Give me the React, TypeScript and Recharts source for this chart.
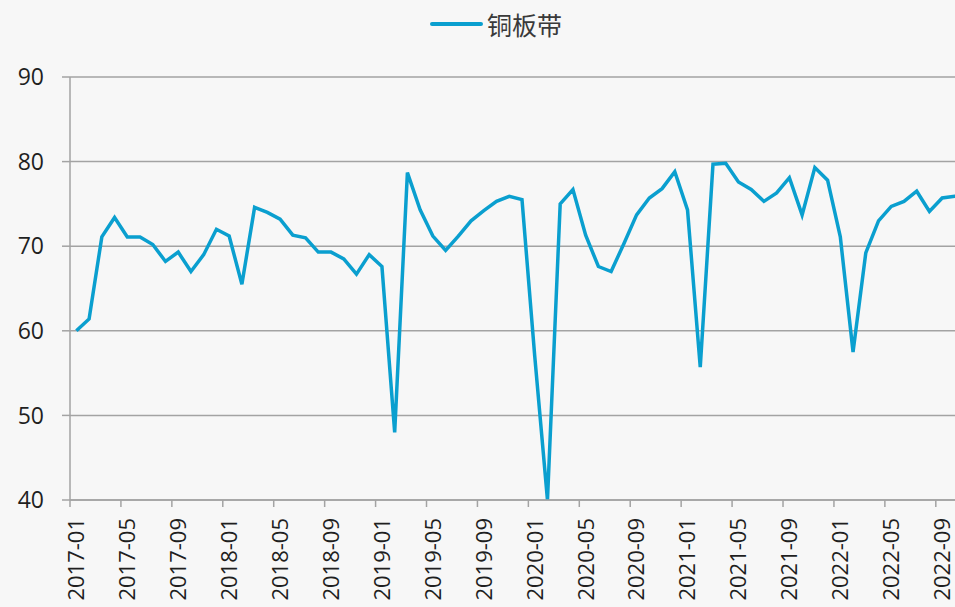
import React from "react";
import { LineChart, Line, XAxis, YAxis, CartesianGrid } from "recharts";

const years = ["2017", "2018", "2019", "2020", "2021", "2022"];
const monthNums = ["01", "02", "03", "04", "05", "06", "07", "08", "09", "10", "11", "12"];
const months = years
  .flatMap((y) => monthNums.map((m) => `${y}-${m}`))
  .slice(0, 71); // 2017-01 .. 2022-11

const copperStrip = [
  60.0, 61.4, 71.1, 73.4, 71.1, 71.1, 70.2, 68.2, 69.3, 67.0, 69.0, 72.0,
  71.2, 65.5, 74.6, 74.0, 73.2, 71.3, 71.0, 69.3, 69.3, 68.5, 66.7, 69.0,
  67.6, 48.0, 78.7, 74.3, 71.2, 69.5, 71.2, 73.0, 74.2, 75.3, 75.9, 75.5,
  57.0, 40.0, 75.0, 76.7, 71.3, 67.6, 67.0, 70.3, 73.7, 75.7, 76.8, 78.8,
  74.3, 55.7, 79.7, 79.8, 77.6, 76.7, 75.3, 76.3, 78.1, 73.7, 79.3, 77.8,
  71.1, 57.5, 69.2, 73.0, 74.7, 75.3, 76.5, 74.1, 75.7, 75.9, 76.0,
];

const yTicks = [40, 50, 60, 70, 80, 90];

const data = months.map((m, i) => ({ month: m, value: copperStrip[i] }));

const FONT = '"Open Sans", "Noto Sans CJK SC", sans-serif';
const LINE_COLOR = "#0a9fcf";
const AXIS_COLOR = "#a3a3a3";

const PLOT_LEFT = 70;
const PLOT_RIGHT = 974;
const CHART_W = 980;
const HALF_BAND = (PLOT_RIGHT - PLOT_LEFT) / months.length / 2;

function MonthTick(props: any) {
  const { x, y, payload } = props;
  return (
    <g>
      <line
        x1={x - HALF_BAND}
        x2={x - HALF_BAND}
        y1={y - 18}
        y2={y - 11}
        stroke={AXIS_COLOR}
        strokeWidth={1.5}
      />
      <text
        x={x}
        y={y}
        transform={`rotate(-90, ${x}, ${y})`}
        textAnchor="end"
        dy="0.36em"
        fill="#1f1f1f"
        fontSize={22}
        fontFamily={FONT}
      >
        {payload.value}
      </text>
    </g>
  );
}

export default function App() {
  return (
    <div
      style={{
        position: "fixed",
        left: 0,
        top: 0,
        width: 955,
        height: 607,
        overflow: "hidden",
        background: "#f7f7f7",
      }}
    >
      <div
        style={{
          position: "absolute",
          left: 430,
          top: 6,
          display: "flex",
          alignItems: "center",
          fontFamily: FONT,
          fontSize: 25,
          color: "#3a3a3a",
        }}
      >
        <span
          style={{
            display: "inline-block",
            width: 53,
            height: 4,
            borderRadius: 2,
            background: LINE_COLOR,
            marginRight: 4,
          }}
        />
        <span>铜板带</span>
      </div>
      <LineChart
        width={CHART_W}
        height={607}
        data={data}
        margin={{ top: 77, right: CHART_W - PLOT_RIGHT, bottom: 0, left: 0 }}
      >
        <CartesianGrid vertical={false} stroke={AXIS_COLOR} strokeWidth={1.5} />
        <XAxis
          dataKey="month"
          height={107}
          interval={3}
          padding={{ left: HALF_BAND, right: HALF_BAND }}
          axisLine={{ stroke: AXIS_COLOR, strokeWidth: 1.5 }}
          tickLine={false}
          tickSize={7}
          tickMargin={11}
          tick={<MonthTick />}
        />
        <YAxis
          width={PLOT_LEFT}
          domain={[40, 90]}
          ticks={yTicks}
          allowDataOverflow
          axisLine={{ stroke: AXIS_COLOR, strokeWidth: 1.5 }}
          tickLine={{ stroke: AXIS_COLOR, strokeWidth: 1.5 }}
          tickSize={8}
          tickMargin={18}
          tick={{ fill: "#1f1f1f", fontSize: 23, fontFamily: FONT }}
        />
        <Line
          type="linear"
          dataKey="value"
          stroke={LINE_COLOR}
          strokeWidth={3.5}
          dot={false}
          isAnimationActive={false}
        />
      </LineChart>
    </div>
  );
}
